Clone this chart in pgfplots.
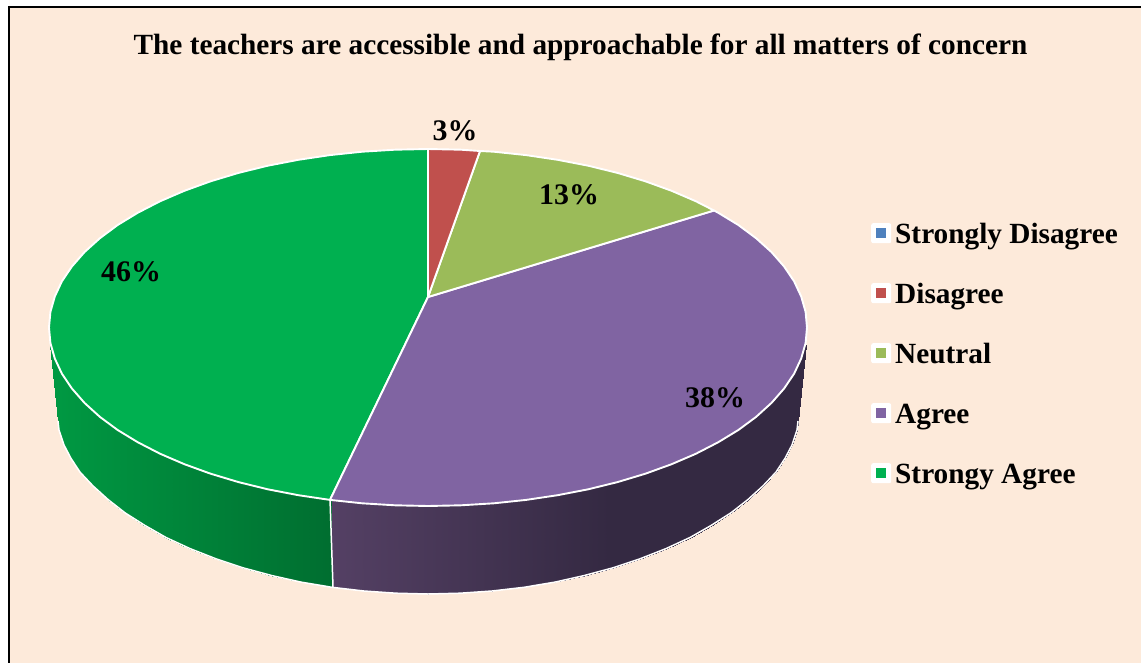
\documentclass[border=0pt]{standalone}
\usepackage{fontspec}
\setmainfont{Liberation Serif}
\usepackage{pgfplots}
\pgfplotsset{compat=1.18}
\definecolor{bgc}{HTML}{FDEADA}
\definecolor{sdis}{HTML}{4F81BD}
\definecolor{dis}{HTML}{C0504D}
\definecolor{neu}{HTML}{9BBB59}
\definecolor{agr}{HTML}{8064A2}
\definecolor{sagr}{HTML}{00B050}

\pgfplotsset{
  colormap={gwall}{rgb255(0)=(0,152,66) rgb255(58)=(0,152,66) rgb255(332)=(0,110,48) rgb255(1141)=(0,110,48)},
  colormap={pwall}{rgb255(0)=(84,64,100) rgb255(333)=(84,64,100) rgb255(610)=(52,41,66) rgb255(1141)=(52,41,66)},
  slice/.style={fill=#1, draw=white, line width=1.9bp, line join=round},
  rim/.style={draw=white, line width=1.5bp, no marks},
  legsq/.style={legend image code/.code={
    \fill[white, draw=none, rounded corners=2bp] (0bp,-10bp) rectangle (20bp,10bp);
    \path[draw=none, ##1] (5bp,-5bp) rectangle (15bp,5bp);}},
}

\begin{document}
\begin{tikzpicture}
\begin{axis}[
  scale only axis,
  width=1141bp,
  height=663bp,
  xmin=0, xmax=1141,
  ymin=0, ymax=663,
  y dir=reverse,
  hide axis,
  point meta min=0,
  point meta max=1141,
  legend cell align=left,
  legend style={
    at={(axis cs:871,203)}, anchor=north west,
    draw=none, fill=none, inner sep=0pt,
    font=\fontsize{29.4}{31}\selectfont\bfseries,
    nodes={inner sep=0pt, text height=40bp, text depth=20bp},
    /tikz/every odd column/.append style={column sep=4bp},
  },
]
% legend first, so the entries go with these images and not with the plots below
\addlegendimage{legsq, fill=sdis}
\addlegendentry{Strongly Disagree}
\addlegendimage{legsq, fill=dis}
\addlegendentry{Disagree}
\addlegendimage{legsq, fill=neu}
\addlegendentry{Neutral}
\addlegendimage{legsq, fill=agr}
\addlegendentry{Agree}
\addlegendimage{legsq, fill=sagr}
\addlegendentry{Strongy Agree}

% background and frame
\addplot[fill=bgc, draw=none, forget plot] coordinates {(9,7) (1141,7) (1141,663) (9,663)} \closedcycle;
\addplot[draw=black, line width=2.2bp, no marks, forget plot] coordinates {(9,663) (9,7) (1141,7)};

% side wall, green
\addplot[surf, shader=interp, colormap name=gwall, mesh/cols=2, point meta=x, forget plot] table {
x y
332 499
332 587.3
301 495
301 582.1
272 489
272 575.6
243 482
243 567.8
216 474
216 558.8
190 464
190 548.6
166 454
166 537.5
145 442
145 525.5
125 430
125 512.8
108 417
108 499.5
93 403
93 485.9
80 389
80 472.1
71 374
71 458.4
64 359
64 445
61 352
61 436
52 346
59 430
49.8 345
58 421
};
% side wall, purple
\addplot[surf, shader=interp, colormap name=pwall, mesh/cols=2, point meta=x, forget plot] table {
x y
806 345
798 421
804 346
797 430
802 352
795 436
801 359
792 445
794 374
785 458.4
784 389
776 472.1
772 403
763 485.9
756 417
748 499.5
738 430
731 512.8
718 442
711 525.5
696 454
690 537.5
672 464
666 548.6
645 474
640 558.8
618 482
613 567.8
588 489
584 575.6
558 495
555 582.1
526 500
524 587.3
494 503
492 591
461 505
460 593.2
428 506
428 594
395 505
396 593.2
362 503
364 591
332 499
332 587.3
};
% bottom rim and the seam between the two walls
\addplot[rim, forget plot] coordinates {(58,421) (59,430) (61,436) (64,445) (71,458.4) (80,472.1) (93,485.9) (108,499.5) (125,512.8) (145,525.5) (166,537.5) (190,548.6) (216,558.8) (243,567.8) (272,575.6) (301,582.1) (332,587.3) (364,591) (396,593.2) (428,594) (460,593.2) (492,591) (524,587.3) (555,582.1) (584,575.6) (613,567.8) (640,558.8) (666,548.6) (690,537.5) (711,525.5) (731,512.8) (748,499.5) (763,485.9) (776,472.1) (785,458.4) (792,445) (795,436) (797,430) (798,421)};
\addplot[rim, forget plot] coordinates {(330,499) (333,587)};

% top face: Strongy Agree 46
\addplot[slice=sagr, forget plot] coordinates {(428,297) (330,499.9) (298.4,495.2) (267.8,489.3) (238.5,482.1) (210.6,473.7) (184.4,464.2) (160,453.7) (137.7,442.2) (117.5,429.9) (99.8,416.8) (84.5,402.9) (71.9,388.5) (61.9,373.7) (54.8,358.5) (50.4,343.1) (49,327.5) (50.4,311.9) (54.8,296.5) (61.9,281.3) (71.9,266.5) (84.5,252.1) (99.8,238.3) (117.5,225.1) (137.7,212.8) (160,201.3) (184.4,190.8) (210.6,181.3) (238.5,172.9) (267.8,165.7) (298.4,159.8) (329.9,155.1) (362.2,151.7) (395,149.7) (428,149)} -- cycle;
% Agree 38
\addplot[slice=agr, forget plot] coordinates {(428,297) (714,210.5) (718.3,212.8) (738.5,225.1) (756.2,238.3) (771.5,252.1) (784.1,266.5) (794.1,281.3) (801.2,296.5) (805.6,311.9) (807,327.5) (805.6,343.1) (801.2,358.5) (794.1,373.7) (784.1,388.5) (771.5,402.9) (756.2,416.8) (738.5,429.9) (718.3,442.2) (696,453.7) (671.6,464.2) (645.4,473.7) (617.5,482.1) (588.2,489.3) (557.6,495.2) (526.1,499.9) (493.8,503.3) (461,505.3) (428,506) (395,505.3) (362.2,503.3) (330,499.9)} -- cycle;
% Neutral 13
\addplot[slice=neu, forget plot] coordinates {(428,297) (480,151) (493.8,151.7) (526.1,155.1) (557.6,159.8) (588.2,165.7) (617.5,172.9) (645.4,181.3) (671.6,190.8) (696,201.3) (714,210.5)} -- cycle;
% Disagree 3
\addplot[slice=dis, forget plot] coordinates {(428,297) (428,149) (461,149.7) (480,151)} -- cycle;

\node[font=\fontsize{29.4}{31}\selectfont\bfseries] at (axis cs:580.5,47) {The teachers are accessible and approachable for all matters of concern};
\node[font=\fontsize{30}{32}\selectfont\bfseries] at (axis cs:455,131) {3\%};
\node[font=\fontsize{30}{32}\selectfont\bfseries] at (axis cs:569,195) {13\%};
\node[font=\fontsize{30}{32}\selectfont\bfseries] at (axis cs:715,398) {38\%};
\node[font=\fontsize{30}{32}\selectfont\bfseries] at (axis cs:131,272) {46\%};
\end{axis}
\path[use as bounding box] (0,0) rectangle (1141bp,663bp);
\end{tikzpicture}
\end{document}
